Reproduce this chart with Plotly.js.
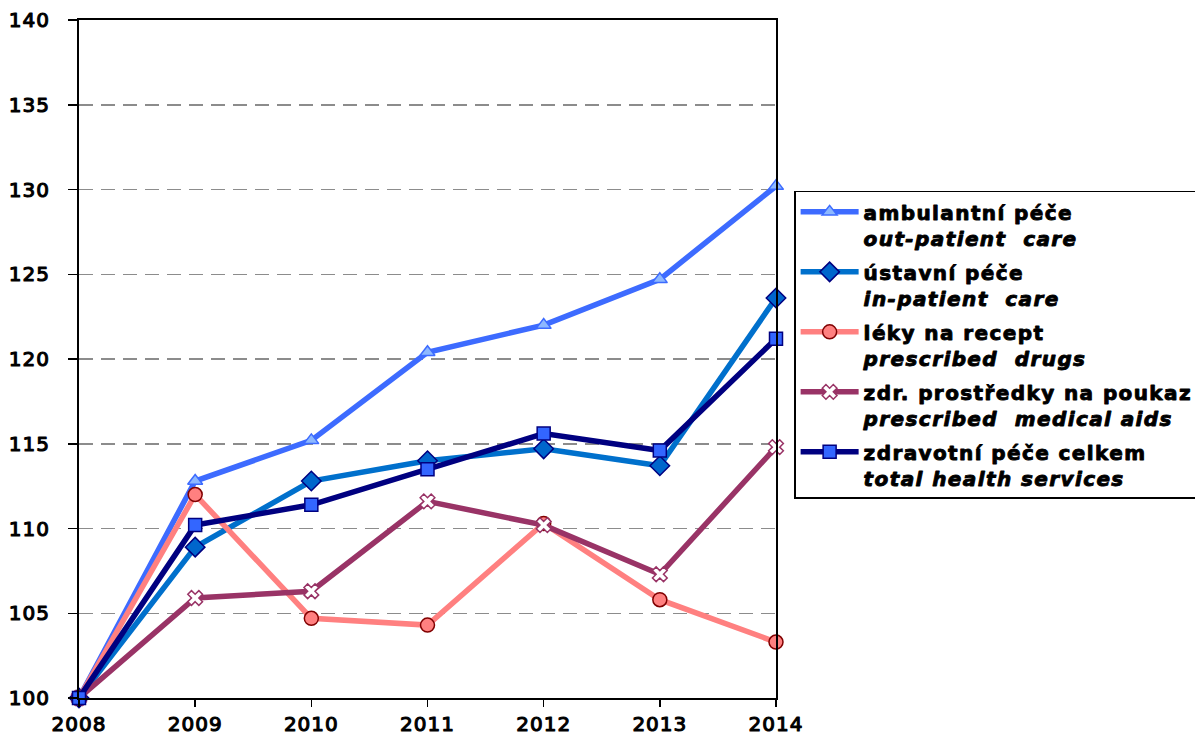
<!DOCTYPE html>
<html>
<head>
<meta charset="utf-8">
<script src="https://cdn.plot.ly/plotly-3.0.1.min.js"></script>
<style>
html,body{margin:0;padding:0;background:#fff}
#chart{width:1195px;height:740px}
#chart .legendtext{stroke:#000;stroke-width:0.9px;stroke-linejoin:round;letter-spacing:1.4px}
#chart .xtick text, #chart .ytick text{stroke:#000;stroke-width:1.1px;stroke-linejoin:round;letter-spacing:1px}
#chart .legend .scrollbox{clip-path:none !important}
#chart .legend rect.bg{width:520px !important}
</style>
</head>
<body>
<div id="chart"></div>
<script>
const years = [2008, 2009, 2010, 2011, 2012, 2013, 2014];
const ambulantni = [100, 112.8, 115.2, 120.4, 122.0, 124.7, 130.2];
const ustavni = [100, 108.9, 112.8, 114.0, 114.7, 113.7, 123.6];
const leky = [100, 112.0, 104.7, 104.3, 110.3, 105.8, 103.3];
const prostredky = [100, 105.9, 106.3, 111.6, 110.2, 107.3, 114.8];
const celkem = [100, 110.2, 111.4, 113.5, 115.6, 114.6, 121.2];
const names = [
  '<b>ambulantní péče</b><br><b><i>out-patient  care</i></b>',
  '<b>ústavní péče</b><br><b><i>in-patient  care</i></b>',
  '<b>léky na recept</b><br><b><i>prescribed  drugs</i></b>',
  '<b>zdr. prostředky na poukaz</b><br><b><i>prescribed  medical aids</i></b>',
  '<b>zdravotní péče celkem</b><br><b><i>total health services</i></b>'
];
const yTicks = [100, 105, 110, 115, 120, 125, 130, 135, 140];
const FONT = '"DejaVu Sans", Verdana, sans-serif';

const traces = [
  {x: years, y: ambulantni, name: names[0], legendgroup: 'a', mode: 'lines+markers', cliponaxis: false,
   line: {color: '#3D6BFF', width: 5.5},
   marker: {symbol: 'triangle-up', size: 13, color: '#8DB8FF', line: {color: '#3D6BFF', width: 1.5}}},
  {x: years, y: ustavni, name: names[1], legendgroup: 'b', mode: 'lines+markers', cliponaxis: false,
   line: {color: '#0070CC', width: 5.5},
   marker: {symbol: 'diamond', size: 15, color: '#0066CC', line: {color: '#000080', width: 1.5}}},
  {x: years, y: leky, name: names[2], legendgroup: 'c', mode: 'lines+markers', cliponaxis: false,
   line: {color: '#FF8080', width: 5.5},
   marker: {symbol: 'circle', size: 14, color: '#FF8080', line: {color: '#800000', width: 1.5}}},
  {x: years, y: prostredky, name: names[3], legendgroup: 'd', mode: 'lines+markers', cliponaxis: false,
   line: {color: '#993366', width: 5.5},
   marker: {symbol: 'x', size: 13, color: '#FFFFFF', line: {color: '#993366', width: 1.5}}},
  {x: years, y: celkem, name: names[4], legendgroup: 'e', mode: 'lines+markers', cliponaxis: false,
   line: {color: '#000080', width: 5.5},
   marker: {symbol: 'square', size: 13, color: '#3366FF', line: {color: '#000080', width: 1.5}}}
];

const layout = {
  width: 1195, height: 740,
  margin: {l: 79, r: 419, t: 20, b: 42, pad: 0},
  paper_bgcolor: '#fff', plot_bgcolor: '#fff',
  font: {family: FONT, color: '#000', size: 20},
  showlegend: true,
  xaxis: {
    range: [2008, 2014], tickvals: years, ticktext: years.map(String),
    showgrid: false, zeroline: false,
    showline: true, linecolor: '#000', linewidth: 2, mirror: true,
    ticks: 'outside', ticklen: 7, tickwidth: 1.5, tickcolor: '#000',
    tickfont: {size: 20, family: FONT, color: '#000'}
  },
  yaxis: {
    range: [100, 140], tickvals: yTicks, ticktext: yTicks.map(String),
    showgrid: true, gridcolor: '#8C8C8C', gridwidth: 1.5, griddash: '14px,8px',
    zeroline: false,
    showline: true, linecolor: '#000', linewidth: 2, mirror: true,
    ticks: 'outside', ticklen: 9, tickwidth: 1.5, tickcolor: '#000',
    ticklabelstandoff: 14,
    tickfont: {size: 20, family: FONT, color: '#000'}
  },
  legend: {
    x: 1.026, y: 0.748, xanchor: 'left', yanchor: 'top',
    bgcolor: '#fff', bordercolor: '#000', borderwidth: 1.5,
    font: {size: 20, family: FONT, color: '#000'},
    valign: 'top', tracegroupgap: 5, itemwidth: 58
  }
};

Plotly.newPlot('chart', traces, layout, {displayModeBar: false, staticPlot: true});
</script>
</body>
</html>
